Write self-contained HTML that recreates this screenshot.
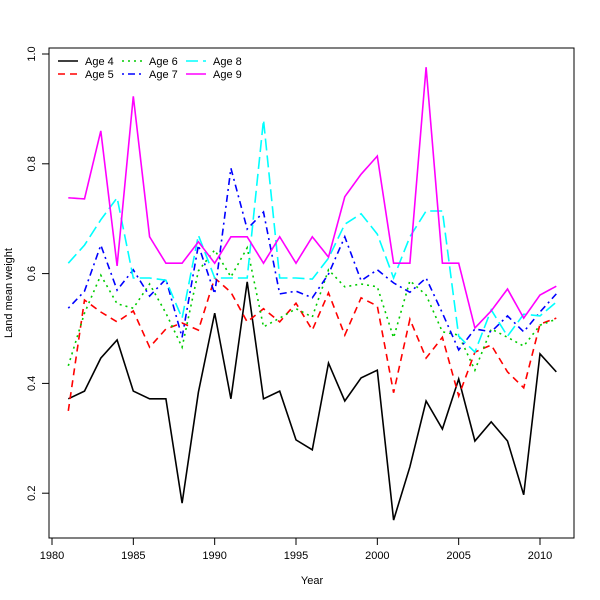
<!DOCTYPE html>
<html><head><meta charset="utf-8"><style>
body{margin:0;background:#fff}
svg{display:block;font-family:"Liberation Sans",sans-serif}
</style></head><body>
<svg id="chart" width="600" height="600">
<rect x="49" y="48" width="525" height="490" fill="none" stroke="#000"/>
<g id="axes"></g><g id="series"></g><g id="legend"></g>
<text x="312" y="584" font-size="11" text-anchor="middle">Year</text>
<text transform="translate(12,293) rotate(-90)" font-size="11" text-anchor="middle">Land mean weight</text>
</svg>
<script>
const years=[1981,1982,1983,1984,1985,1986,1987,1988,1989,1990,1991,1992,1993,1994,1995,1996,1997,1998,1999,2000,2001,2002,2003,2004,2005,2006,2007,2008,2009,2010,2011];
const age4=[0.372,0.386,0.446,0.479,0.386,0.372,0.372,0.182,0.384,0.528,0.372,0.585,0.372,0.386,0.297,0.279,0.437,0.368,0.410,0.424,0.151,0.248,0.368,0.317,0.408,0.295,0.330,0.295,0.197,0.454,0.421];
const age5=[0.35,0.552,0.53,0.512,0.532,0.466,0.499,0.51,0.497,0.592,0.566,0.512,0.536,0.512,0.546,0.497,0.565,0.488,0.556,0.541,0.383,0.517,0.446,0.484,0.377,0.457,0.47,0.421,0.392,0.508,0.519];
const age6=[0.432,0.528,0.597,0.545,0.537,0.581,0.528,0.466,0.605,0.643,0.594,0.647,0.503,0.519,0.536,0.521,0.607,0.576,0.581,0.576,0.483,0.587,0.561,0.494,0.488,0.424,0.499,0.484,0.468,0.506,0.517];
const age7=[0.537,0.568,0.652,0.57,0.607,0.559,0.59,0.484,0.652,0.563,0.792,0.681,0.712,0.563,0.568,0.556,0.599,0.667,0.587,0.607,0.583,0.566,0.592,0.528,0.461,0.499,0.494,0.523,0.494,0.53,0.563];
const age8=[0.619,0.652,0.698,0.738,0.592,0.592,0.588,0.519,0.67,0.592,0.592,0.592,0.88,0.592,0.592,0.59,0.628,0.69,0.709,0.672,0.592,0.667,0.714,0.714,0.486,0.457,0.534,0.486,0.526,0.523,0.548];
const age9=[0.738,0.736,0.86,0.614,0.923,0.667,0.619,0.619,0.658,0.619,0.667,0.667,0.619,0.667,0.619,0.667,0.63,0.74,0.781,0.814,0.619,0.619,0.976,0.619,0.619,0.501,0.532,0.572,0.519,0.561,0.577];
const xTicks=[1980,1985,1990,1995,2000,2005,2010];
const yTicks=[0.2,0.4,0.6,0.8,1.0];
const yTickLabels=["0.2","0.4","0.6","0.8","1.0"];
const seriesNames=["Age 4","Age 5","Age 6","Age 7","Age 8","Age 9"];

const NS="http://www.w3.org/2000/svg";
const xs=y=>52+(y-1980)*488/30;
const ys=v=>54+(1-v)*549;
function mk(t,a,p){const e=document.createElementNS(NS,t);for(const k in a)e.setAttribute(k,a[k]);p.appendChild(e);return e;}
const axes=document.getElementById('axes');
xTicks.forEach(t=>{
  const l=mk('line',{x1:xs(t),x2:xs(t),y1:538,y2:545,stroke:'#000'},axes);
  
  
  const tx=mk('text',{x:xs(t),y:559,'font-size':11,'text-anchor':'middle'},axes);tx.textContent=t;
  
  
});
yTicks.forEach((t,i)=>{
  const l=mk('line',{x1:42,x2:49,y1:ys(t),y2:ys(t),stroke:'#000'},axes);
  
  
  const tx=mk('text',{transform:`translate(35,${ys(t)}) rotate(-90)`,'font-size':11,'text-anchor':'middle'},axes);tx.textContent=yTickLabels[i];
  
  
});
const data=[age4,age5,age6,age7,age8,age9];
const cols=['#000','#f00','#0c0','#00f','#0ff','#f0f'];
const dash=['','7,5','2,4','2,4,7,4','12,5','3,0'];
const ser=document.getElementById('series');
data.forEach((d,i)=>{
  const pts=d.map((v,j)=>xs(years[j]).toFixed(1)+','+ys(v).toFixed(1)).join(' ');
  const p=mk('polyline',{points:pts,fill:'none',stroke:cols[i],'stroke-width':1.6,'stroke-dasharray':dash[i]||'none'},ser);
  
  
});
const leg=document.getElementById('legend');
const lp=[[58,61],[58,74],[122,61],[122,74],[186,61],[186,74]];
seriesNames.forEach((n,i)=>{
  const g=mk('g',{},leg);
  
  
  mk('line',{x1:lp[i][0],x2:lp[i][0]+20,y1:lp[i][1],y2:lp[i][1],stroke:cols[i],'stroke-width':1.6,'stroke-dasharray':dash[i]||'none'},g);
  const t=mk('text',{x:lp[i][0]+27,y:lp[i][1]+4,'font-size':11},g);t.textContent=n;
});
</script>
</body></html>
